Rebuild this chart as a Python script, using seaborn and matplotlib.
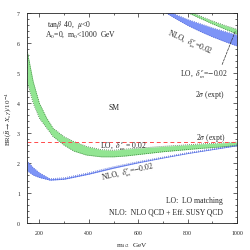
import numpy as np
import pandas as pd
import matplotlib
matplotlib.use('Agg')
import matplotlib.pyplot as plt
from matplotlib.ticker import MultipleLocator
import seaborn as sns

# lower LO band (green), delta = 0.02
lo_x = [150, 175, 200, 230, 255, 300, 340, 390, 450, 500, 550, 700, 850, 1000]
lo_hi = [5.78, 4.72, 4.0, 3.5, 3.17, 2.88, 2.72, 2.56, 2.45, 2.43, 2.47, 2.56, 2.64, 2.70]
lo_lo = [4.72, 4.0, 3.5, 3.17, 2.89, 2.6, 2.4, 2.27, 2.21, 2.21, 2.24, 2.38, 2.49, 2.58]

# lower NLO band (blue), delta = -0.02
nlo_x = [150, 175, 200, 243, 300, 400, 500, 600, 700, 800, 900, 1000]
nlo_hi = [2.07, 1.85, 1.68, 1.48, 1.51, 1.68, 1.88, 2.05, 2.2, 2.35, 2.48, 2.61]
nlo_lo = [1.75, 1.6, 1.52, 1.43, 1.46, 1.63, 1.83, 2.01, 2.17, 2.32, 2.45, 2.58]

# upper NLO band (blue)
nlo2_x = [700, 750, 800, 850, 900, 950, 1000]
nlo2_hi = [7.2, 6.97, 6.8, 6.66, 6.52, 6.4, 6.28]
nlo2_lo = [7.08, 6.83, 6.6, 6.4, 6.22, 6.06, 5.91]

# upper LO band (green)
lo2_x = [780, 820, 860, 900, 950, 1000]
lo2_hi = [7.18, 7.02, 6.88, 6.75, 6.6, 6.47]
lo2_lo = [7.1, 6.95, 6.8, 6.65, 6.48, 6.31]

exp_2sigma = 2.72

green = '#92e592'
green_edge = '#2a662a'
blue = '#7d94f7'
blue_edge = '#4258cc'

sns.set_theme(style='ticks')
plt.rcParams['font.family'] = ['Liberation Serif', 'DejaVu Serif']
plt.rcParams['mathtext.fontset'] = 'stix'

fig = plt.figure(figsize=(2.51, 2.51), dpi=100)
ax = fig.add_axes([0.1076, 0.1076, 0.837, 0.835])

bands = [(lo_x, lo_hi, lo_lo, green, green_edge),
         (nlo_x, nlo_hi, nlo_lo, blue, blue_edge),
         (nlo2_x, nlo2_hi, nlo2_lo, blue, blue_edge),
         (lo2_x, lo2_hi, lo2_lo, green, green_edge)]
for bx, hi, lo, fc, ec in bands:
    ax.fill_between(bx, lo, hi, color=fc, lw=0)
    df = pd.DataFrame({'x': bx + bx, 'y': hi + lo,
                       'edge': ['hi'] * len(bx) + ['lo'] * len(bx)})
    sns.lineplot(data=df, x='x', y='y', units='edge', estimator=None,
                 color=ec, lw=0.55, ls=':', ax=ax)

ax.axhline(exp_2sigma, color='#ff4a4a', lw=0.7, ls=(0, (4, 3)))

ax.set_xlim(150, 1000)
ax.set_ylim(0, 7)
ax.xaxis.set_major_locator(MultipleLocator(200))
ax.xaxis.set_minor_locator(MultipleLocator(100))
ax.yaxis.set_major_locator(MultipleLocator(1))
ax.yaxis.set_minor_locator(MultipleLocator(0.2))
ax.tick_params(which='both', direction='in', top=True, right=True,
               labelsize=4.2, width=0.5, pad=5)
ax.tick_params(which='major', length=3)
ax.tick_params(which='minor', length=1.5)
for s in ax.spines.values():
    s.set_linewidth(0.6)

ax.set_xlabel(r'm$_{1/2}$  GeV', fontsize=5.2, labelpad=4)
ax.set_ylabel(r'BR($\bar B \to X_s\,\gamma$)/10$^{-4}$', fontsize=5.0, labelpad=2)

fs = 5.5
ax.text(0.095, 0.95, r'tan$\beta$  40,  $\mu$<0', transform=ax.transAxes, fontsize=fs, va='center')
ax.text(0.086, 0.902, r'A$_0$=0,  m$_0$<1000  GeV', transform=ax.transAxes, fontsize=fs, va='center')
ax.text(0.386, 0.554, 'SM', transform=ax.transAxes, fontsize=fs, va='center')
ax.text(0.775, 0.862, r'NLO,  $\delta^e_m$=0.02', transform=ax.transAxes, fontsize=fs,
        ha='center', va='center', rotation=-24)
ax.annotate(r'LO,  $\delta^e_m$=$-$0.02', xy=(lo2_x[-1] - 8, (lo2_hi[-1] + lo2_lo[-1]) / 2),
            xytext=(0.957, 0.711), textcoords='axes fraction', fontsize=fs,
            ha='right', va='center',
            arrowprops=dict(arrowstyle='-', ls='--', lw=0.5, color='#333333',
                            relpos=(0.85, 1.0), shrinkA=0, shrinkB=0))
ax.text(0.938, 0.616, r'2$\sigma$ (expt)', transform=ax.transAxes, fontsize=fs, ha='right', va='center')
ax.text(0.943, 0.41, r'2$\sigma$ (expt)', transform=ax.transAxes, fontsize=fs, ha='right', va='center')
ax.text(0.348, 0.368, r'LO,  $\delta^e_m$ = 0.02', transform=ax.transAxes, fontsize=fs, va='center')
ax.text(0.48, 0.243, r'NLO,  $\delta^e_m$=$-$0.02', transform=ax.transAxes, fontsize=fs,
        ha='center', va='center', rotation=13)
ax.text(0.933, 0.11, 'LO:  LO matching', transform=ax.transAxes, fontsize=fs, ha='right', va='center')
ax.text(0.933, 0.057, 'NLO:  NLO QCD + Eff. SUSY QCD', transform=ax.transAxes, fontsize=fs,
        ha='right', va='center')

fig.savefig('out.png', dpi=100)
